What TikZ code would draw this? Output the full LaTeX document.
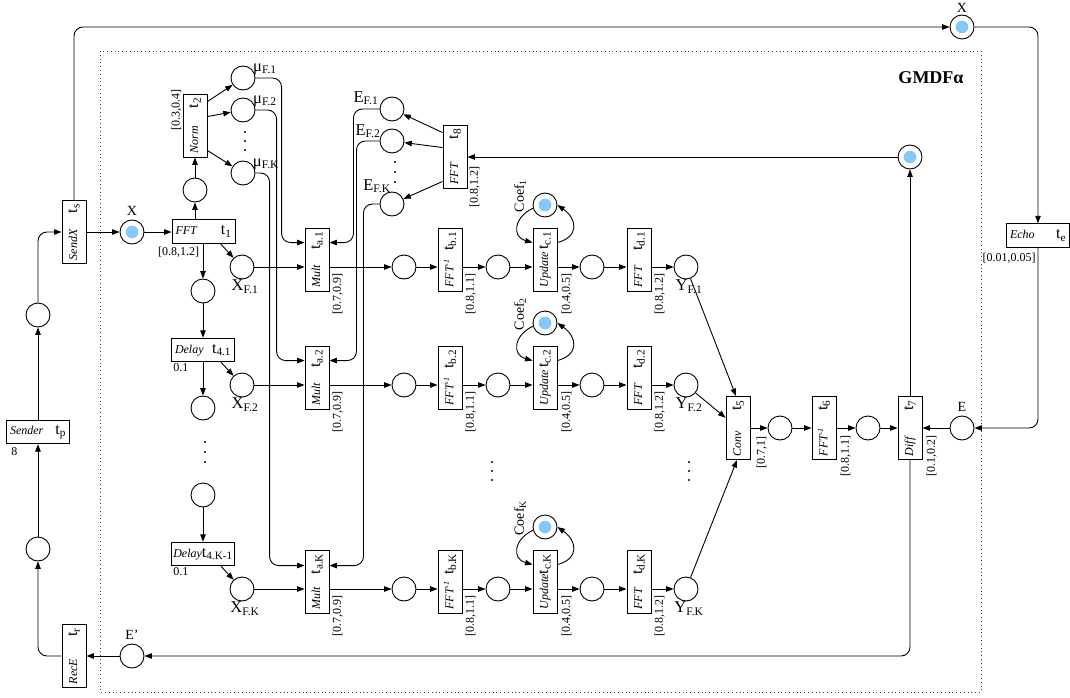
\documentclass[tikz,border=0pt]{standalone}
\usepackage{fontspec}
\setmainfont{Liberation Serif}
\usetikzlibrary{arrows.meta,calc,positioning}
\definecolor{tokblue}{RGB}{130,200,250}
\newcommand{\trname}[1]{{\fontsize{12}{12}\selectfont\itshape #1}}
\newcommand{\trlab}[1]{{\fontsize{16}{16}\selectfont t\textsubscript{#1}}}
\newcommand{\vtrans}[2]{\rotatebox{90}{\makebox[56pt]{\trname{#1}\hfill\trlab{#2}}}}
\newcommand{\htrans}[2]{\makebox[56pt]{\trname{#1}\hfill\trlab{#2}}}
\tikzset{
  place/.style = {circle, draw, line width=0.9pt, minimum size=24pt, inner sep=0pt},
  trv/.style   = {draw, line width=0.9pt, minimum width=24pt, minimum height=63pt, inner sep=0pt},
  trh/.style   = {draw, line width=0.9pt, minimum width=63pt, minimum height=23.5pt, inner sep=0pt},
  arr/.style   = {-{Triangle[length=7.5pt,width=5.5pt]}, line width=0.9pt, rounded corners=9pt},
  itv/.style   = {font=\fontsize{12}{12}\selectfont, inner sep=0pt},
  slab/.style  = {font=\fontsize{14}{14}\selectfont, inner sep=0.5pt},
  plab/.style  = {font=\fontsize{16.5}{16.5}\selectfont, inner sep=0.5pt},
}

\begin{document}
\begin{tikzpicture}[x=1pt,y=-1pt]
  \useasboundingbox (0,0) rectangle (1070,698);
  \draw[black!75, line width=0.9pt, dash pattern=on 0.9pt off 2.9pt] (100,51) rectangle (981,692);
  \node[font=\fontsize{18}{18}\selectfont\bfseries] (title) at (931,78) {GMDFα};

  \node[trv] (ts) at (74,232) {\vtrans{SendX}{s}};
  \node[place] (pl1) at (38,315) {};
  \node[trh] (tp) at (38,432) {\htrans{Sender}{p}};
  \node[itv, anchor=north west] at ($(tp.south west)+(5,3)$) {8};
  \node[place] (pl2) at (38,549) {};
  \node[trv] (tr) at (74,656) {\vtrans{RecE}{r}};
  \node[place, label={[slab, label distance=3pt]above:E'}] (pEp) at (132,656) {};

  \node[place, label={[slab, label distance=3pt]above:X}] (pX) at (132,232) {};
  \node[trh] (t1) at (203.5,231.5) {\htrans{FFT}{1}};
  \node[itv, anchor=north] at ($(t1.south west)+(7,3)$) {[0.8,1.2]};
  \node[place] (pN) at (195,190) {};
  \node[trv] (t2) at (195,125.5) {\vtrans{Norm}{2}};
  \node[itv, rotate=90, anchor=south] at ($(t2.north west)+(-1,16)$) {[0.3,0.4]};
  \node[place] (muF1) at (243,78) {};
  \node[place] (muF2) at (243,110) {};
  \node[place] (muFK) at (243,173) {};
  \node[plab] at ($(muF1)+(22,-9)$) {μ\textsubscript{F.1}};
  \node[plab] at ($(muF2)+(22,-9)$) {μ\textsubscript{F.2}};
  \node[plab] at ($(muFK)+(23,-9)$) {μ\textsubscript{F.K}};
  \foreach \d in {132,141,150} \fill (245,\d) circle (1.1);

  \node[place] (eF1) at (392,109) {};
  \node[place] (eF2) at (392,141) {};
  \node[place] (eFK) at (392,204) {};
  \node[plab] at ($(eF1)+(-26,-11)$) {E\textsubscript{F.1}};
  \node[plab] at ($(eF2)+(-24,-10)$) {E\textsubscript{F.2}};
  \node[plab] at ($(eFK)+(-15,-18)$) {E\textsubscript{F.K}};
  \foreach \d in {162,172,182} \fill (395,\d) circle (1.1);
  \node[trv] (t8) at (455,156.5) {\vtrans{FFT}{8}};
  \node[itv, rotate=90, anchor=north] at ($(t8.south east)+(2,-1)$) {[0.8,1.2]};

  \node[place] (pD1) at (203,291) {};
  \node[trh] (t41) at (203,350) {\htrans{Delay}{4.1}};
  \node[itv, anchor=north west] at ($(t41.south west)+(2,1)$) {0.1};
  \node[place] (pD2) at (203,408) {};
  \foreach \d in {442,452,462} \fill (205,\d) circle (1.1);
  \node[place] (pD3) at (203,495) {};
  \node[trh] (t4K) at (203,554) {\htrans{Delay}{4.K-1}};
  \node[itv, anchor=north west] at ($(t4K.south west)+(2,1)$) {0.1};

  \foreach \r/\y in {1/267,2/385,K/589}{
    \node[place, label={[plab,xshift=3pt]below:X\textsubscript{F.\r}}] (xF\r) at (242,\y) {};
    \node[trv] (ta\r) at (317,\y-7.5) {\vtrans{Mult}{a.\r}};
    \node[place] (pa\r) at (404,\y) {};
    \node[trv] (tb\r) at (450,\y-7.5) {\vtrans{FFT\textsuperscript{-1}}{b.\r}};
    \node[place] (pb\r) at (498,\y) {};
    \node[trv] (tc\r) at (545,\y-7.5) {\vtrans{Update}{c.\r}};
    \node[place] (coef\r) at (545,\y-62) {};
    \node[slab, rotate=90] at ($(coef\r)+(-25,-9)$) {Coef\textsubscript{\r}};
    \node[place] (pc\r) at (592,\y) {};
    \node[trv] (td\r) at (639,\y-7.5) {\vtrans{FFT}{d.\r}};
    \node[place, label={[plab,xshift=3pt]below:Y\textsubscript{F.\r}}] (yF\r) at (686,\y) {};
    \node[itv, rotate=90, anchor=north] at ($(ta\r.south east)+(3,3)$) {[0.7,0.9]};
    \node[itv, rotate=90, anchor=north] at ($(tb\r.south east)+(3,3)$) {[0.8,1.1]};
    \node[itv, rotate=90, anchor=north] at ($(tc\r.south east)+(4,3)$) {[0.4,0.5]};
    \node[itv, rotate=90, anchor=north] at ($(td\r.south east)+(3,3)$) {[0.8,1.2]};
    \draw[arr] (xF\r) -- (xF\r -| ta\r.west);
    \draw[arr] (ta\r.east |- pa\r) -- (pa\r);
    \draw[arr] (pa\r) -- (pa\r -| tb\r.west);
    \draw[arr] (tb\r.east |- pb\r) -- (pb\r);
    \draw[arr] (pb\r) -- (pb\r -| tc\r.west);
    \draw[arr] (tc\r.east |- pc\r) -- (pc\r);
    \draw[arr] (pc\r) -- (pc\r -| td\r.west);
    \draw[arr] (td\r.east |- yF\r) -- (yF\r);
    \draw[arr] (coef\r.195) to[out=205,in=165,looseness=1.6] ($(tc\r.north west)+(0,15)$);
    \draw[arr] ($(tc\r.north east)+(0,15)$) to[out=15,in=-35,looseness=1.6] (coef\r.east);
  }
  \foreach \d in {462,471,480} {\fill (492,\d) circle (1.1); \fill (689,\d) circle (1.1);}

  \node[trv] (t5) at (738,428) {\vtrans{Conv}{5}};
  \node[itv, rotate=90, anchor=north] at ($(t5.south east)+(6,-7)$) {[0.7,1]};
  \node[place] (p5) at (780,428) {};
  \node[trv] (t6) at (824,428) {\vtrans{FFT\textsuperscript{-1}}{6}};
  \node[itv, rotate=90, anchor=north] at ($(t6.south east)+(4,-4)$) {[0.8,1.1]};
  \node[place] (p6) at (868,428) {};
  \node[trv] (t7) at (910,428) {\vtrans{Diff}{7}};
  \node[itv, rotate=90, anchor=north] at ($(t7.south east)+(4,-4)$) {[0.1,0.2]};
  \node[place, label={[slab, label distance=3pt]above:E}] (pE) at (962,428) {};
  \node[place] (pT7) at (910,157) {};
  \node[place, label={[slab, label distance=1pt]above:X}] (Xtop) at (962,27) {};
  \node[trh] (te) at (1038,235.5) {\htrans{Echo}{e}};
  \node[itv, anchor=north] at ($(te.south west)+(3,5)$) {[0.01,0.05]};

  \foreach \p in {pX,Xtop,pT7,coef1,coef2,coefK} \fill[tokblue] (\p) circle (6.3);

  \draw[arr] (ts.north) |- (Xtop);
  \draw[arr] (Xtop) -| (te);
  \draw[arr] (te) |- (pE);
  \draw[arr] (pE) -- (t7);
  \draw[arr] (t7) -- (pT7);
  \draw[arr] (pT7) -- (pT7 -| t8.east);
  \draw[arr] (t7) |- (pEp);
  \draw[arr] (pEp) -- (tr);
  \draw[arr] (tr) -| (pl2);
  \draw[arr] (pl2) -- (tp);
  \draw[arr] (tp) -- (pl1);
  \draw[arr] (pl1) |- (ts);
  \draw[arr] (ts) -- (pX);
  \draw[arr] (pX) -- (pX -| t1.west);
  \draw[arr] ($(t1.north)+(-8.5,0)$) -- (pN);
  \draw[arr] (pN) -- (t2);
  \draw[arr] ($(t2.north east)+(0,8)$) -- (muF1);
  \draw[arr] ($(t2.north east)+(0,23)$) -- (muF2);
  \draw[arr] ($(t2.south east)+(0,-7)$) -- (muFK);
  \draw[arr] (t1.south -| pD1) -- (pD1);
  \draw[arr] ($(t1.south east)+(-15,0)$) -- (xF1);
  \draw[arr] (pD1) -- (t41);
  \draw[arr] ($(t41.south east)+(-14,0)$) -- (xF2);
  \draw[arr] (t41) -- (pD2);
  \draw[arr] (pD3) -- (t4K);
  \draw[arr] ($(t4K.south east)+(-14,0)$) -- (xFK);
  \draw[arr] (muF1) -| ($(ta1.north west)+(-23,15)$) -- ($(ta1.north west)+(0,15)$);
  \draw[arr] (muF2) -| ($(ta2.north west)+(-28,15)$) -- ($(ta2.north west)+(0,15)$);
  \draw[arr] (muFK) -| ($(taK.north west)+(-35,16)$) -- ($(taK.north west)+(0,16)$);
  \draw[arr] (eF1) -| ($(ta1.north east)+(24,15)$) -- ($(ta1.north east)+(0,15)$);
  \draw[arr] (eF2) -| ($(ta2.north east)+(27,15)$) -- ($(ta2.north east)+(0,15)$);
  \draw[arr] (eFK) -| ($(taK.north east)+(34,16)$) -- ($(taK.north east)+(0,16)$);
  \draw[arr] ($(t8.north west)+(0,8)$) -- (eF1);
  \draw[arr] ($(t8.north west)+(0,23)$) -- (eF2);
  \draw[arr] ($(t8.south west)+(0,-7)$) -- (eFK);
  \draw[arr] (yF1) -- ($(t5.north)+(-2,0)$);
  \draw[arr] (yF2) -- (t5);
  \draw[arr] (yFK) -- ($(t5.south)+(-1,0)$);
  \draw[arr] (t5) -- (p5);
  \draw[arr] (p5) -- (t6);
  \draw[arr] (t6) -- (p6);
  \draw[arr] (p6) -- (t7);
\end{tikzpicture}
\end{document}
